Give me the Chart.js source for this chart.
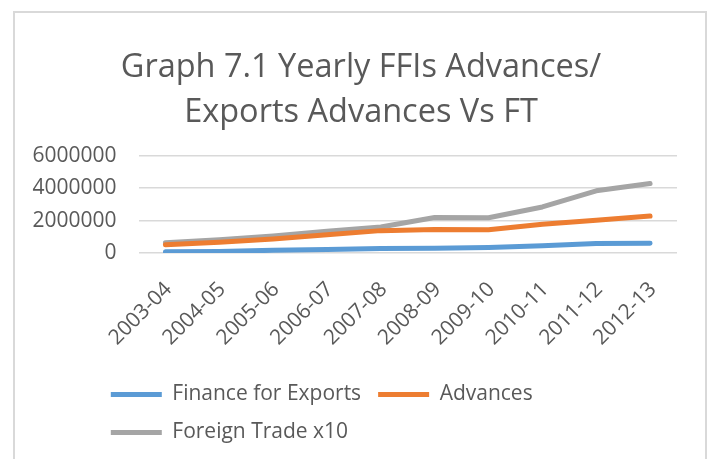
<!DOCTYPE html>
<html>
<head>
<meta charset="utf-8">
<script src="https://cdn.jsdelivr.net/npm/chart.js@4.4.1/dist/chart.umd.min.js"></script>
<style>
  html, body { margin: 0; padding: 0; background: #ffffff; overflow: hidden; width: 711px; height: 459px; }
  #frame { position: absolute; left: 13px; top: 11px; width: 694px; height: 470px; border: 2px solid #d9d9d9; box-sizing: border-box; pointer-events: none; }
  canvas { position: absolute; left: 0; top: 0; }
</style>
</head>
<body>
<canvas id="c" width="711" height="459"></canvas>
<div id="frame"></div>
<script>
const titleLines = ['Graph 7.1 Yearly FFIs Advances/', 'Exports Advances Vs FT'];
const categories = ['2003-04', '2004-05', '2005-06', '2006-07', '2007-08', '2008-09', '2009-10', '2010-11', '2011-12', '2012-13'];
const financeForExports = [70000, 100000, 165000, 215000, 270000, 300000, 340000, 445000, 585000, 605000];
const advances = [505000, 665000, 865000, 1120000, 1380000, 1450000, 1440000, 1770000, 2015000, 2275000];
const foreignTradeX10 = [635000, 825000, 1050000, 1340000, 1600000, 2185000, 2175000, 2840000, 3835000, 4285000];
const seriesNames = ['Finance for Exports', 'Advances', 'Foreign Trade x10'];
const yTickValues = [0, 2000000, 4000000, 6000000];

const FONT = "'Open Sans', 'Liberation Sans', sans-serif";
const TEXT = '#595959';

function lineSet(label, data, color) {
  return {
    label: label, data: data,
    borderColor: color, backgroundColor: color,
    borderWidth: 5, borderCapStyle: 'round', borderJoinStyle: 'round',
    pointRadius: 0, pointHoverRadius: 0, tension: 0, fill: false
  };
}

// nudge title and legend boxes to match the reference layout
const boxShift = {
  id: 'boxShift',
  afterUpdate(chart) {
    if (chart.legend) {
      chart.legend.left += 73.8; chart.legend.right += 73.8;
      chart.legend.top += 4; chart.legend.bottom += 4;
    }
    if (chart.titleBlock) { chart.titleBlock.left += 12.5; chart.titleBlock.right += 12.5; }
  }
};

new Chart(document.getElementById('c'), {
  type: 'line',
  data: {
    labels: categories,
    datasets: [
      lineSet(seriesNames[0], financeForExports, '#5b9bd5'),
      lineSet(seriesNames[1], advances, '#ed7d31'),
      lineSet(seriesNames[2], foreignTradeX10, '#a5a5a5')
    ]
  },
  options: {
    responsive: false,
    animation: false,
    layout: { padding: { left: 20, right: 34, top: 0, bottom: 10 } },
    scales: {
      x: {
        offset: true,
        grid: { display: false },
        border: { display: false },
        ticks: { color: TEXT, font: { family: FONT, size: 21 }, maxRotation: 45, minRotation: 45, autoSkip: false, padding: 16, labelOffset: 3 },
        afterFit(s) { s.height = 110; }
      },
      y: {
        min: 0, max: 6000000,
        afterBuildTicks(s) { s.ticks = yTickValues.map(v => ({ value: v })); },
        grid: { color: '#d9d9d9', lineWidth: 1.5, drawTicks: false },
        border: { display: false },
        ticks: { color: TEXT, font: { family: FONT, size: 21 }, padding: 22, callback: v => String(v) },
        afterFit(s) { s.width = 118.5; }
      }
    },
    plugins: {
      title: {
        display: true, text: titleLines, color: TEXT,
        font: { family: FONT, size: 32.5, weight: 'normal', lineHeight: 1.385 },
        padding: { top: 45.5, bottom: 20.2 }
      },
      legend: {
        position: 'bottom', align: 'start',
        labels: {
          usePointStyle: true, pointStyle: 'line', pointStyleWidth: 51,
          color: TEXT, font: { family: FONT, size: 21 }, padding: 17
        }
      },
      tooltip: { enabled: false }
    }
  },
  plugins: [boxShift]
});
</script>
</body>
</html>
